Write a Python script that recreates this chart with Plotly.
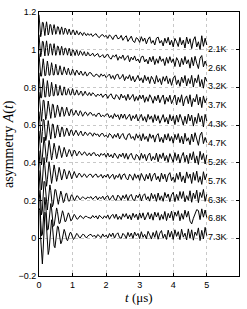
import plotly.graph_objects as go

# time grid (microseconds): fine sampling early, coarser later
T_EARLY = [round(0.025 * k, 3) for k in range(61)]
T_LATE = [round(1.55 + 0.05 * j, 3) for j in range(70)]
TIME_US = T_EARLY + T_LATE

LABELS = ["2.1K", "2.6K", "3.2K", "3.7K", "4.3K", "4.7K", "5.2K", "5.7K", "6.3K", "6.8K", "7.3K"]
OFFSETS = [1.0, 0.9, 0.8, 0.7, 0.6, 0.5, 0.4, 0.3, 0.2, 0.1, 0.0]

# asymmetry relative to each curve's offset, in units of 0.001
DEV_2p1K = [185,124,69,92,145,144,92,75,117,148, 116,78,93,134,132,93,80,112,133,110,
            82,92,122,121,92,81,105,121,103,81, 89,115,111,85,81,98,110,94,79,86,
            103,104,84,78,88,101,90,80,81,94, 90,79,75,88,91,84,76,77,86,83, 76,
            85,70,80,85,70,64,77,80,68,76, 60,79,69,54,73,78,58,61,76,50,
            65,74,44,60,72,47,38,64,57,39, 69,45,62,31,56,68,34,49,25,61,
            67,35,49,20,61,35,66,25,50,15, 60,42,17,65,26,51,9,67,31,58,
            6,51,69,15,42,1,74,18,61,25]
DEV_2p6K = [180,119,63,85,144,143,85,67,113,147, 112,69,85,131,130,85,71,106,132,102,
            70,84,119,117,83,71,99,118,97,71, 81,109,107,83,71,92,108,91,67,78,
            99,98,80,69,87,98,82,69,74,94, 90,74,70,81,90,76,67,71,87,83, 70,
            70,82,65,73,80,61,65,74,56,70, 76,57,50,70,62,74,44,64,53,72,
            44,58,69,36,61,46,67,40,51,30, 62,66,35,50,25,61,36,65,21,52,
            28,65,38,52,16,59,28,63,32,52, 11,58,41,9,54,21,64,25,47,2,
            59,15,65,28,0,55,69,9,40,15]
DEV_3p2K = [180,121,60,60,118,152,116,62,64,112, 140,111,65,65,108,131,106,66,66,103,
            123,100,68,67,98,115,96,68,68,93, 109,92,71,67,90,102,85,67,67,89,
            97,85,66,64,82,92,81,69,66,80, 87,76,65,65,79,83,75,61,63,74, 79,
            77,62,58,71,66,54,72,60,68,52, 62,71,47,63,42,66,70,45,52,69,
            36,58,46,67,36,59,29,51,64,35, 51,25,64,36,56,21,59,43,19,63,
            28,47,15,57,33,61,20,47,11,49, 62,15,40,6,55,25,63,8,47,20,
            64,2,49,25,67,4,42,-4,55,32]
DEV_3p7K = [178,114,45,45,111,147,108,49,50,105, 136,103,52,54,100,127,98,56,56,96,
            117,94,58,59,91,110,89,60,59,88, 103,89,60,61,84,94,82,61,60,80,
            94,79,60,60,74,87,75,60,62,74, 81,73,56,59,70,80,69,58,57,65, 73,
            56,72,63,51,65,56,66,47,60,64, 42,59,66,44,38,62,52,35,65,44,
            57,31,64,35,49,63,27,52,31,60, 39,60,21,50,26,61,44,16,53,29,
            60,19,43,60,11,48,25,59,14,36, 60,7,48,21,61,2,39,55,14,61,
            -2,42,23,63,7,49,-7,55,18,42]
DEV_4p3K = [175,113,40,21,74,132,131,73,29,46, 101,128,99,48,36,71,111,109,71,40,
            52,89,107,87,53,45,69,95,94,67, 47,56,80,95,78,56,49,62,83,82,
            64,53,55,72,79,67,55,50,61,76, 72,60,47,54,64,70,67,53,50,54, 65,
            66,51,58,45,61,63,44,53,45,58, 60,39,52,35,61,43,55,30,59,37,
            59,31,44,58,24,50,34,57,22,43, 57,24,45,16,57,31,49,14,56,23,
            50,10,38,56,16,41,6,56,22,49, 3,53,16,57,33,0,47,8,59,22,
            53,-5,42,9,62,17,49,-10,57,22]
DEV_4p7K = [172,109,29,8,66,130,128,65,18,36, 96,124,93,39,26,64,106,104,63,31,
            44,83,101,81,45,37,62,89,88,60, 40,48,73,85,74,48,43,58,74,75,
            58,44,52,65,73,64,46,44,55,66, 69,54,45,45,58,64,58,50,45,51, 59,
            57,41,59,47,53,38,54,56,39,47, 34,56,47,30,51,36,57,27,45,56,
            30,23,50,55,29,40,20,54,31,49, 17,55,24,41,13,54,30,48,10,44,
            55,12,36,7,51,21,55,15,40,4, 51,23,55,7,41,0,57,15,33,-4,
            53,11,60,24,-7,47,63,2,35,7]
DEV_5p2K = [170,113,27,-11,30,105,137,101,34,4, 35,94,119,90,38,15,39,84,104,81,
            40,22,41,76,91,74,43,28,43,70, 82,68,47,32,44,66,71,64,45,35,
            41,61,68,63,45,37,44,54,62,56, 44,41,44,54,58,56,44,39,40,50, 53,
            37,52,54,37,46,33,50,40,50,30, 52,31,44,26,52,40,23,47,32,52,
            24,50,19,41,51,24,16,45,36,14, 51,24,45,11,40,52,11,34,16,52,
            6,45,23,53,11,39,3,49,30,3, 54,13,46,-1,34,55,5,41,-4,50,
            16,59,-1,37,-9,61,17,50,-6,43]
DEV_5p7K = [165,100,1,-43,4,90,128,85,10,-24, 13,78,106,74,16,-9,19,67,89,64,
            21,2,22,59,76,57,24,9,25,53, 66,55,26,14,27,45,58,47,28,15,
            27,44,54,42,28,21,31,40,46,40, 26,24,28,41,42,37,29,22,28,36, 39,
            39,22,35,41,24,28,39,19,35,24, 40,17,30,40,13,34,22,42,12,36,
            42,17,10,40,29,8,42,18,36,7, 44,26,5,39,14,45,3,32,46,10,
            29,0,46,14,40,-1,35,48,5,25, -3,44,12,51,1,31,-7,52,18,41,
            -9,49,7,56,-3,28,-14,53,10,42]
DEV_6p3K = [160,90,-14,-76,-50,34,102,98,32,-35, -50,-3,59,83,54,0,-33,-19,25,59,
            57,23,-12,-20,4,37,50,34,6,-11, -4,18,37,39,18,-1,-4,4,24,31,
            23,12,0,4,13,25,25,15,9,4, 11,19,19,18,10,9,8,14,19,16, 14,
            21,6,16,23,4,18,10,23,4,20, 26,2,15,28,6,1,29,19,1,27,
            10,32,0,24,33,5,0,29,15,35, -2,26,36,4,21,-3,39,10,32,-4,
            40,3,25,-4,43,15,35,-6,30,44, -6,33,2,48,11,48,-7,26,1,52,
            -9,40,10,55,-11,43,16,59,-4,33]
DEV_6p8K = [155,104,-7,-87,-81,-4,83,117,76,0, -56,-53,2,61,84,56,3,-36,-33,4,
            45,61,42,6,-22,-20,6,35,46,33, 10,-12,-10,8,25,35,26,9,-8,-4,
            8,25,27,21,9,3,1,9,19,20, 18,10,7,4,10,17,16,16,11,9, 7,
            6,21,9,19,2,22,15,4,19,8, 24,1,18,27,6,28,0,17,0,30,
            12,31,3,24,-2,33,10,28,-2,34, 7,35,-3,23,37,2,30,-4,39,13,
            36,-4,26,1,42,-6,32,8,44,-6, 39,17,46,-7,31,1,49,12,43,-9,
            -24,6,35,52,47,-1,56,12,50,10]
DEV_7p3K = [160,147,1,-117,-136,-57,62,138,132,54, -39,-86,-64,7,75,98,67,8,-41,-50,
            -17,32,64,61,29,-10,-29,-20,9,37, 47,34,10,-7,-13,0,19,30,31,18,
            5,-6,-2,10,19,26,21,11,5,1, 7,12,21,20,18,8,5,3,11,16, 18,
            21,8,17,3,20,13,3,23,7,17, 2,25,9,28,1,20,29,4,0,26,
            17,-1,31,8,28,-1,33,13,26,-2, 35,5,21,-3,37,18,-4,31,5,40,
            -5,27,41,0,22,-6,43,6,37,-6, 45,10,35,-7,48,6,27,-9,50,1,
            45,-10,33,15,55,-12,42,-3,58,14]

SERIES = [DEV_2p1K, DEV_2p6K, DEV_3p2K, DEV_3p7K, DEV_4p3K, DEV_4p7K,
          DEV_5p2K, DEV_5p7K, DEV_6p3K, DEV_6p8K, DEV_7p3K]

for name, s in zip(LABELS, SERIES):
    if len(s) != len(TIME_US):
        raise ValueError(f"{name}: {len(s)} values vs {len(TIME_US)} times")

fig = go.Figure()
for lab, off, dev in zip(LABELS, OFFSETS, SERIES):
    fig.add_trace(go.Scatter(
        x=TIME_US, y=[off + v / 1000.0 for v in dev], mode="lines",
        line=dict(color="#000000", width=1.0), name=lab, showlegend=False,
        hoverinfo="skip"))
    fig.add_annotation(x=5.0, y=off, xref="x", yref="y", text=lab,
                       showarrow=False, xanchor="left", yanchor="middle",
                       xshift=-1, yshift=1,
                       font=dict(family="Liberation Sans, Arial, sans-serif",
                                 size=9, color="black"))

Y_TICKS = [-0.2, 0, 0.2, 0.4, 0.6, 0.8, 1.0, 1.2]
Y_TICKTEXT = ["\u22120.2", "0", "0.2", "0.4", "0.6", "0.8", "1", "1.2"]
X_TICKS = [0, 1, 2, 3, 4, 5]

axis_common = dict(showline=True, linecolor="black", linewidth=1, mirror="ticks",
                   ticks="inside", ticklen=3, tickcolor="black",
                   showgrid=True, gridcolor="#c8c8c8", griddash="dot", gridwidth=1,
                   zeroline=False,
                   tickfont=dict(family="Liberation Sans, Arial, sans-serif",
                                 size=9, color="black"))

fig.update_layout(
    width=247, height=309,
    margin=dict(l=39, r=7, t=10, b=33),
    paper_bgcolor="white", plot_bgcolor="white",
    xaxis=dict(range=[0, 5.96], tickvals=X_TICKS, **axis_common),
    yaxis=dict(range=[-0.2, 1.2], tickvals=Y_TICKS, ticktext=Y_TICKTEXT, **axis_common),
)

fig.add_annotation(xref="paper", yref="paper", x=-0.15, y=0.5, textangle=-90,
                   text="asymmetry <i>A</i>(<i>t</i>)", showarrow=False,
                   xanchor="center", yanchor="middle",
                   font=dict(family="Liberation Serif, Times New Roman, serif",
                             size=14, color="black"))
fig.add_annotation(xref="paper", yref="paper", x=0.5, y=-0.082,
                   text="<i>t</i> (\u03bcs)", showarrow=False,
                   xanchor="center", yanchor="middle",
                   font=dict(family="Liberation Serif, Times New Roman, serif",
                             size=13, color="black"))

fig.write_html("out.html", config={"displayModeBar": False},
               post_script="document.body.style.margin='0px';")
